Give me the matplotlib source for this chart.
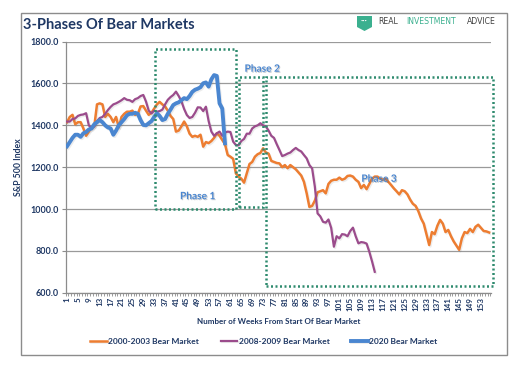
import numpy as np
import matplotlib
matplotlib.use('Agg')
import matplotlib.pyplot as plt
import matplotlib.patheffects as pe
from matplotlib.patches import Rectangle, Polygon

plt.rcParams['font.family'] = ['Lato', 'DejaVu Sans']

# S&P 500 index level by week from the start of each bear market
bear_2000 = [1415, 1440, 1450, 1405, 1415, 1415, 1385, 1350, 1370, 1390,
             1395, 1500, 1505, 1500, 1440, 1455, 1440, 1415, 1440, 1390,
             1440, 1455, 1465, 1465, 1470, 1450, 1455, 1490, 1492, 1470,
             1450, 1460, 1480, 1500, 1512, 1500, 1490, 1470, 1445, 1430,
             1370, 1375, 1395, 1418, 1395, 1360, 1345, 1350, 1345, 1355,
             1298, 1320, 1315, 1325, 1340, 1362, 1350, 1330, 1310, 1258,
             1250, 1240, 1170, 1155, 1145, 1126, 1170, 1215, 1225, 1250,
             1262, 1268, 1290, 1270, 1265, 1230, 1225, 1220, 1218, 1200,
             1210, 1195, 1210, 1200, 1190, 1175, 1160, 1130, 1075, 1010,
             1015, 1040, 1080, 1085, 1090, 1075, 1120, 1135, 1140, 1140,
             1150, 1140, 1145, 1158, 1160, 1155, 1140, 1130, 1100, 1115,
             1095, 1120, 1145, 1155, 1155, 1145, 1140, 1145, 1130, 1115,
             1099, 1085, 1070, 1090, 1085, 1070, 1045, 1025, 1015, 990,
             955, 930, 880, 828, 890, 880, 920, 948, 930, 890,
             900, 870, 845, 825, 805, 860, 890, 885, 905, 890,
             915, 925, 910, 895, 893, 888]

bear_2008 = [1418, 1418, 1430, 1433, 1445, 1450, 1452, 1458, 1400, 1385,
             1395, 1420, 1435, 1440, 1455, 1473, 1488, 1500, 1505, 1512,
             1520, 1530, 1522, 1520, 1512, 1525, 1530, 1540, 1545, 1513,
             1470, 1457, 1470, 1465, 1468, 1475, 1500, 1522, 1535, 1545,
             1561, 1540, 1515, 1478, 1449, 1435, 1440, 1460, 1486, 1485,
             1468, 1489, 1420, 1370, 1350, 1362, 1370, 1350, 1365, 1370,
             1368, 1322, 1306, 1305, 1325, 1335, 1360, 1360, 1385, 1395,
             1400, 1410, 1400, 1395, 1375, 1350, 1340, 1310, 1282, 1253,
             1258, 1265, 1270, 1282, 1292, 1282, 1275, 1258, 1242, 1210,
             1194, 1107, 979, 965, 939, 935, 950, 910, 820, 870,
             860, 880, 878, 870, 895, 911, 870, 836, 842, 840,
             835, 796, 750, 700]

bear_2020 = [1300, 1320, 1340, 1355, 1355, 1345, 1362, 1368, 1380, 1385,
             1405, 1415, 1425, 1415, 1400, 1390, 1385, 1355, 1375, 1400,
             1415, 1430, 1448, 1455, 1455, 1460, 1455, 1425, 1402, 1400,
             1410, 1420, 1440, 1457, 1445, 1425, 1430, 1455, 1475, 1497,
             1505, 1510, 1520, 1530, 1525, 1540, 1560, 1570, 1575, 1582,
             1601, 1605, 1585, 1620, 1640, 1636, 1505, 1480, 1314]

n_weeks = 156
week_labels = [str(w) for w in range(1, n_weeks + 1, 4)]

# phase boxes: (start week, end week, low, high)
phases = {
    'Phase 1': (33.4, 63.0, 1000, 1765),
    'Phase 2': (64.3, 73.1, 1008, 1630),
    'Phase 3': (74.1, 157.5, 632, 1630),
}
phase_text = {'Phase 1': (49, 1059), 'Phase 2': (72.7, 1668), 'Phase 3': (115.6, 1142)}

navy = '#1F3864'
teal = '#2E8B6E'

fig = plt.figure(figsize=(5.31, 3.65), dpi=100)
fig.patches.append(Rectangle((21 / 531, 1 - 355 / 365), 486 / 531, 342 / 365,
                             transform=fig.transFigure, fill=False,
                             edgecolor='#8c8c8c', linewidth=1.0))

ax = fig.add_axes([0.1237, 0.198, 0.801, 0.688])

shadow = [pe.SimpleLineShadow(offset=(0.8, -1.0), shadow_color='#666666', alpha=0.12),
          pe.Normal()]

series = [
    ('2000-2003 Bear Market', bear_2000, '#ED7D31', 1.8),
    ('2008-2009 Bear Market', bear_2008, '#9B4C8C', 1.6),
    ('2020 Bear Market', bear_2020, '#4A86D0', 2.8),
]
for name, vals, col, lw in series:
    x = np.arange(1, len(vals) + 1)
    ax.plot(x, vals, color=col, linewidth=lw, label=name, path_effects=shadow,
            solid_joinstyle='round', zorder=3)

for key, (x0, x1, lo, hi) in phases.items():
    ax.add_patch(Rectangle((x0, lo), x1 - x0, hi - lo, fill=False, edgecolor=teal,
                           linewidth=1.8, linestyle=(0, (0.8, 1.0)), clip_on=False, zorder=4))
    tx, ty = phase_text[key]
    ax.text(tx, ty, key, color='#4A86D0', fontsize=7.3, fontweight='bold',
            ha='center', va='center', zorder=5,
            path_effects=[pe.withSimplePatchShadow(offset=(0.7, -0.7), alpha=0.25)])

ax.set_xlim(0.5, n_weeks + 0.7)
ax.set_ylim(600, 1800)
ax.set_yticks(range(600, 1801, 200))
ax.set_yticklabels([f'{v:.1f}' for v in range(600, 1801, 200)])
ax.grid(axis='y', color='#9a9a9a', linewidth=0.9)
ax.set_axisbelow(True)
for s in ['top', 'right']:
    ax.spines[s].set_visible(False)
for s in ['left', 'bottom']:
    ax.spines[s].set_color('#8c8c8c')
    ax.spines[s].set_linewidth(0.9)

ax.set_xticks(range(1, n_weeks + 1, 4))
ax.set_xticklabels(week_labels, rotation=90)
ax.set_xticks(np.arange(0.5, n_weeks + 1, 1), minor=True)
ax.tick_params(axis='x', which='major', length=0, pad=3, labelsize=5.8, labelcolor=navy)
ax.tick_params(axis='x', which='minor', length=2.5, color='#8c8c8c', width=0.6)
ax.tick_params(axis='y', length=3, color='#8c8c8c', labelsize=6.5, labelcolor=navy, pad=2)
for lab in ax.get_xticklabels() + ax.get_yticklabels():
    lab.set_fontweight('bold')

ax.set_ylabel('S&P 500 Index', fontsize=6.3, fontweight='bold', color=navy, labelpad=5)
ax.set_xlabel('Number of Weeks From Start Of Bear Market', fontsize=5.8,
              fontweight='bold', color=navy, labelpad=5)

leg = fig.legend(loc='center', bbox_to_anchor=(0.497, 1 - 341 / 365), ncol=3, frameon=False,
                 fontsize=6.0, handlelength=2.0, handletextpad=0.15, columnspacing=2.6)
for t in leg.get_texts():
    t.set_color(navy)
    t.set_fontweight('bold')

fig.text(23 / 531, 1 - 25 / 365, '3-Phases Of Bear Markets', fontsize=10.5,
         fontweight='bold', color=navy, ha='left', va='center')

# logo
shield = Polygon([(px / 531, 1 - py / 365) for px, py in [(357, 16), (372, 16), (372, 27),
                                                        (364.5, 31), (357, 27)]],
                 closed=True, transform=fig.transFigure, facecolor='#3BB08F', edgecolor='none')
fig.patches.append(shield)
fig.text(364.5 / 531, 1 - 21 / 365, '···', color='white', fontsize=6, fontweight='bold',
         ha='center', va='center')
logo_font = dict(fontsize=5.6, ha='left', va='center', family='DejaVu Sans')
fig.text(378 / 531, 1 - 22 / 365, 'REAL', color='#404040', **logo_font)
fig.text(406 / 531, 1 - 22 / 365, 'INVESTMENT', color='#3BB08F', **logo_font)
fig.text(467 / 531, 1 - 22 / 365, 'ADVICE', color='#404040', **logo_font)

fig.savefig('out.png', dpi=100)
